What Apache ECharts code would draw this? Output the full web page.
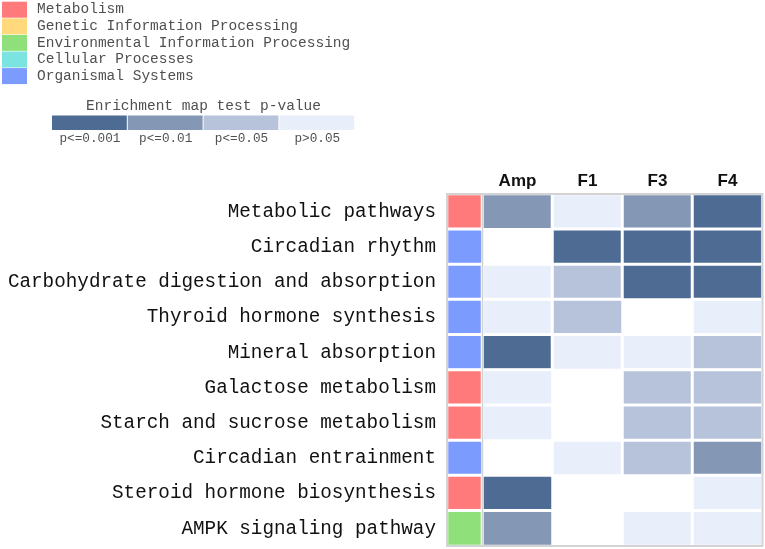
<!DOCTYPE html>
<html><head><meta charset="utf-8">
<script src="https://cdn.jsdelivr.net/npm/echarts/dist/echarts.min.js"></script>
<style>html,body{margin:0;padding:0;background:#fff}#c{width:765px;height:549px}</style>
</head><body><div id="c"></div>
<script>
const pathways = ['Metabolic pathways','Circadian rhythm','Carbohydrate digestion and absorption','Thyroid hormone synthesis','Mineral absorption','Galactose metabolism','Starch and sucrose metabolism','Circadian entrainment','Steroid hormone biosynthesis','AMPK signaling pathway'];
// index into classNames
const pathwayClass = [0,4,4,4,4,0,0,4,0,2];
const samples = ['Amp','F1','F3','F4'];
// p-value class: 0 p<=0.001, 1 p<=0.01, 2 p<=0.05, 3 p>0.05, null = not present
const ampLevels = [1,null,3,3,0,3,3,null,0,1];
const f1Levels  = [3,0,2,2,3,null,null,3,null,null];
const f3Levels  = [1,0,0,null,3,2,2,2,null,3];
const f4Levels  = [0,0,0,3,2,2,2,1,3,3];
const classNames = ['Metabolism','Genetic Information Processing','Environmental Information Processing','Cellular Processes','Organismal Systems'];
const classColors = ['#ff7b7b','#ffd97b','#8fe07b','#7be3e0','#7b9bff'];
const pLabels = ['p<=0.001','p<=0.01','p<=0.05','p>0.05'];
const pColors = ['#4e6b94','#8497b5','#b7c3da','#e8eefa'];
const barTitle = 'Enrichment map test p-value';

const sampleLevels = [ampLevels, f1Levels, f3Levels, f4Levels];
const classData = pathwayClass.map((c, i) => [0, i, c]);
const cellData = [];
sampleLevels.forEach((arr, s) => arr.forEach((v, i) => { if (v !== null) cellData.push([s, i, v]); }));

const mono = 'Liberation Mono';
const G = {left:447, top:194, catW:35.5, dataW:280, h:352};
const graphics = [];
classNames.forEach((n, i) => {
  graphics.push({type:'rect', shape:{x:2, y:1.7 + i*16.6, width:25, height:16}, style:{fill:classColors[i]}});
  graphics.push({type:'text', x:37, y:9.5 + i*16.6, style:{text:n, font:'14.5px "' + mono + '"', fill:'#505050', textVerticalAlign:'middle'}});
});
graphics.push({type:'text', x:203.5, y:106, style:{text:barTitle, font:'14.5px "' + mono + '"', fill:'#505050', textAlign:'center', textVerticalAlign:'middle'}});
pLabels.forEach((l, i) => {
  const w = 75.8, x0 = 52 + i*w;
  graphics.push({type:'rect', shape:{x:x0, y:115.5, width:w-1, height:14.5}, style:{fill:pColors[i]}});
  graphics.push({type:'text', x:x0 + w/2, y:138.5, style:{text:l, font:'12.7px "' + mono + '"', fill:'#505050', textAlign:'center', textVerticalAlign:'middle'}});
});
// heatmap frame
graphics.push({type:'rect', z:100, shape:{x:G.left, y:G.top, width:G.catW + G.dataW, height:G.h}, style:{fill:null, stroke:'#d3d3d3', lineWidth:2}});
graphics.push({type:'line', z:100, shape:{x1:G.left + G.catW, y1:G.top, x2:G.left + G.catW, y2:G.top + G.h}, style:{stroke:'#d3d3d3', lineWidth:1.5}});

const chart = echarts.init(document.getElementById('c'), null, {renderer:'canvas'});
chart.setOption({
  animation:false,
  backgroundColor:'#fff',
  graphic: graphics,
  grid:[
    {left:G.left, top:G.top, width:G.catW, height:G.h, show:false, outerBoundsMode:'none'},
    {left:G.left + G.catW, top:G.top, width:G.dataW, height:G.h, show:false, outerBoundsMode:'none'}
  ],
  xAxis:[
    {type:'category', gridIndex:0, data:['class'], show:false},
    {type:'category', gridIndex:1, data:samples, position:'top',
     axisLine:{show:false}, axisTick:{show:false}, splitLine:{show:false},
     axisLabel:{margin:4, fontFamily:'Liberation Sans', fontWeight:'bold', fontSize:17, color:'#111'}}
  ],
  yAxis:[
    {type:'category', gridIndex:0, data:pathways, inverse:true,
     axisLine:{show:false}, axisTick:{show:false}, splitLine:{show:false},
     axisLabel:{margin:11, fontFamily:mono, fontSize:19.3, color:'#111'}},
    {type:'category', gridIndex:1, data:pathways, inverse:true, show:false}
  ],
  visualMap:[
    {type:'piecewise', show:false, seriesIndex:0, dimension:2,
     pieces: classColors.map((c, i) => ({value:i, color:c}))},
    {type:'piecewise', show:false, seriesIndex:1, dimension:2,
     pieces: pColors.map((c, i) => ({value:i, color:c}))}
  ],
  series:[
    {type:'heatmap', xAxisIndex:0, yAxisIndex:0, data:classData,
     itemStyle:{borderColor:'#fff', borderWidth:3}, emphasis:{disabled:true}},
    {type:'heatmap', xAxisIndex:1, yAxisIndex:1, data:cellData,
     itemStyle:{borderColor:'#fff', borderWidth:3}, emphasis:{disabled:true}}
  ]
});
</script></body></html>
